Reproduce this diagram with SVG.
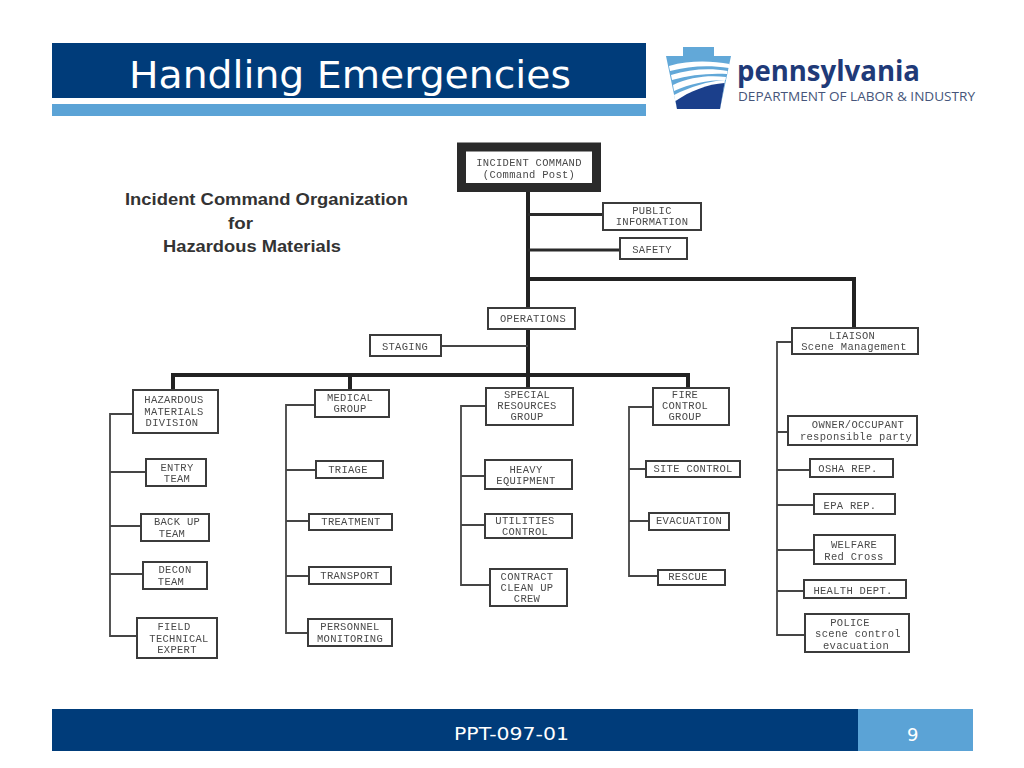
<svg xmlns="http://www.w3.org/2000/svg" width="1024" height="768" viewBox="0 0 1024 768">
<style>
.b{fill:#fff;stroke:#3a3a3a;stroke-width:2}
.t{font-family:"Liberation Mono",monospace;font-size:10.5px;letter-spacing:.3px;fill:#4a4a4a;text-anchor:middle}
.h{font-family:"Liberation Sans",Arial,sans-serif;font-weight:bold;font-size:17px;fill:#333}
.c1{fill:none;stroke:#222;stroke-width:4}
.c2{fill:none;stroke:#2a2a2a;stroke-width:3}
.c3{fill:none;stroke:#444;stroke-width:1.8}
</style>
<defs><filter id="s" x="-2%" y="-2%" width="104%" height="104%"><feGaussianBlur stdDeviation="0.45"/></filter></defs>
<rect width="1024" height="768" fill="#fff"/>
<g id="header">
<rect x="52" y="43" width="594" height="55" fill="#003c7a"/>
<rect x="52" y="104" width="594" height="12" fill="#5ba3d6"/>
<text x="129" y="88" font-family="'DejaVu Sans',Verdana,sans-serif" font-size="37px" fill="#fff" textLength="442" lengthAdjust="spacingAndGlyphs">Handling Emergencies</text>
</g>
<g id="logo">
<path d="M683 47H714V56H731L720 109H677L666 56H683Z" fill="#62a8d8"/>
<path d="M669 66C690 60 712 61 729.500 64L729 68C708 65 690 66 670 71Z M671 75C690 69 710 68 727.500 71L727 74C708 73 690 75 672 80Z M673 85C690 77 708 75 726 77L725.500 80C706 80 690 84 674 91Z" fill="#fff"/>
<path d="M674 95C690 87 708 81 725 80L720 109H677Z" fill="#fff"/>
<path d="M677 109L675.500 101C690 91 708 84 724.500 83L720 109Z" fill="#1b3f8b"/>
<text x="737" y="81" font-family="'Open Sans','Noto Sans',sans-serif" font-weight="bold" font-size="28px" fill="#1f3a78" textLength="183" lengthAdjust="spacingAndGlyphs">pennsylvania</text>
<text x="738" y="101" font-family="'Open Sans','Noto Sans',sans-serif" font-size="13px" fill="#46557a" textLength="237" lengthAdjust="spacingAndGlyphs">DEPARTMENT OF LABOR &amp; INDUSTRY</text>
</g>
<g id="heading">
<text class="h" x="125" y="205" textLength="283" lengthAdjust="spacingAndGlyphs">Incident Command Organization</text>
<text class="h" x="228" y="229" textLength="25" lengthAdjust="spacingAndGlyphs">for</text>
<text class="h" x="163" y="252" textLength="178" lengthAdjust="spacingAndGlyphs">Hazardous Materials</text>
</g>
<g filter="url(#s)">
<g id="connectors">
<path class="c1" d="M528 192V375M173 390V375H688V390M350 375V390M528 375V388"/>
<path class="c1" d="M528 279H854V328"/>
<path class="c2" d="M528 214.500H603M528 250H620"/>
<path class="c3" d="M441 346H528"/>
<path class="c3" d="M133 414H110V636H137M110 472H146M110 526H141M110 574H143"/>
<path class="c3" d="M315 405H286V633H308M286 470H316M286 521H309M286 576H309"/>
<path class="c3" d="M486 406H461V585H490M461 476H485M461 525H485"/>
<path class="c3" d="M653 407H629V576H658M629 469H646M629 521H649"/>
<path class="c3" d="M792 342H777V635H805M777 432H788M777 470H810M777 505H814M777 550H814M777 591H804"/>
</g>
<g id="incident"><rect x="461.500" y="147" width="135" height="40.500" fill="#fff" stroke="#2a2a2a" stroke-width="9"/><text class="t" x="529" y="166">INCIDENT COMMAND</text><text class="t" x="529" y="178">(Command Post)</text></g>
<g id="public"><rect class="b" x="603" y="203" width="98" height="27"/><text class="t" x="652" y="214">PUBLIC</text><text class="t" x="652" y="225">INFORMATION</text></g>
<g id="safety"><rect class="b" x="620" y="238" width="67" height="21"/><text class="t" x="652" y="253">SAFETY</text></g>
<g id="operations"><rect class="b" x="488" y="308" width="87" height="21"/><text class="t" x="533" y="322">OPERATIONS</text></g>
<g id="staging"><rect class="b" x="370" y="335" width="71" height="21"/><text class="t" x="405" y="350">STAGING</text></g>
<g id="liaison"><rect class="b" x="792" y="328" width="126" height="26"/><text class="t" x="852" y="339">LIAISON</text><text class="t" x="854" y="350">Scene Management</text></g>
<g id="owner"><rect class="b" x="788" y="416" width="129" height="29"/><text class="t" x="858" y="428">OWNER/OCCUPANT</text><text class="t" x="856" y="440">responsible party</text></g>
<g id="osha"><rect class="b" x="810" y="459" width="83" height="18"/><text class="t" x="848" y="472">OSHA REP.</text></g>
<g id="epa"><rect class="b" x="814" y="494" width="81" height="20"/><text class="t" x="850" y="509">EPA REP.</text></g>
<g id="welfare"><rect class="b" x="814" y="535" width="81" height="29"/><text class="t" x="854" y="548">WELFARE</text><text class="t" x="854" y="560">Red Cross</text></g>
<g id="health"><rect class="b" x="804" y="580" width="102" height="18"/><text class="t" x="853" y="594">HEALTH DEPT.</text></g>
<g id="police"><rect class="b" x="805" y="614" width="104" height="38"/><text class="t" x="850" y="626">POLICE</text><text class="t" x="858" y="637">scene control</text><text class="t" x="856" y="649">evacuation</text></g>
<g id="hazmat"><rect class="b" x="133" y="390" width="85" height="43"/><text class="t" x="174" y="403">HAZARDOUS</text><text class="t" x="174" y="415">MATERIALS</text><text class="t" x="172" y="426">DIVISION</text></g>
<g id="entry"><rect class="b" x="146" y="459" width="60" height="27"/><text class="t" x="177" y="471">ENTRY</text><text class="t" x="177" y="482">TEAM</text></g>
<g id="backup"><rect class="b" x="141" y="514" width="68" height="27"/><text class="t" x="177" y="525">BACK UP</text><text class="t" x="172" y="537">TEAM</text></g>
<g id="decon"><rect class="b" x="143" y="562" width="64" height="27"/><text class="t" x="175" y="573">DECON</text><text class="t" x="171" y="585">TEAM</text></g>
<g id="field"><rect class="b" x="137" y="618" width="80" height="40"/><text class="t" x="174" y="630">FIELD</text><text class="t" x="179" y="642">TECHNICAL</text><text class="t" x="177" y="653">EXPERT</text></g>
<g id="medical"><rect class="b" x="315" y="390" width="74" height="27"/><text class="t" x="350" y="401">MEDICAL</text><text class="t" x="350" y="412">GROUP</text></g>
<g id="triage"><rect class="b" x="316" y="461" width="67" height="17"/><text class="t" x="348" y="473">TRIAGE</text></g>
<g id="treatment"><rect class="b" x="309" y="514" width="83" height="16"/><text class="t" x="351" y="525">TREATMENT</text></g>
<g id="transport"><rect class="b" x="309" y="567" width="82" height="17"/><text class="t" x="350" y="579">TRANSPORT</text></g>
<g id="personnel"><rect class="b" x="308" y="619" width="84" height="27"/><text class="t" x="350" y="630">PERSONNEL</text><text class="t" x="350" y="642">MONITORING</text></g>
<g id="special"><rect class="b" x="486" y="388" width="87" height="37"/><text class="t" x="527" y="398">SPECIAL</text><text class="t" x="527" y="409">RESOURCES</text><text class="t" x="527" y="420">GROUP</text></g>
<g id="heavy"><rect class="b" x="485" y="460" width="87" height="29"/><text class="t" x="526" y="473">HEAVY</text><text class="t" x="526" y="484">EQUIPMENT</text></g>
<g id="utilities"><rect class="b" x="485" y="514" width="87" height="24"/><text class="t" x="525" y="524">UTILITIES</text><text class="t" x="525" y="535">CONTROL</text></g>
<g id="contract"><rect class="b" x="490" y="569" width="77" height="37"/><text class="t" x="527" y="580">CONTRACT</text><text class="t" x="527" y="591">CLEAN UP</text><text class="t" x="527" y="602">CREW</text></g>
<g id="fire"><rect class="b" x="653" y="388" width="76" height="37"/><text class="t" x="685" y="398">FIRE</text><text class="t" x="685" y="409">CONTROL</text><text class="t" x="685" y="420">GROUP</text></g>
<g id="site"><rect class="b" x="646" y="461" width="94" height="16"/><text class="t" x="693" y="472">SITE CONTROL</text></g>
<g id="evacuation"><rect class="b" x="649" y="513" width="80" height="17"/><text class="t" x="689" y="524">EVACUATION</text></g>
<g id="rescue"><rect class="b" x="658" y="570" width="67" height="15"/><text class="t" x="688" y="580">RESCUE</text></g>
</g>
<g id="footer">
<rect x="52" y="709" width="806" height="42" fill="#003c7a"/>
<rect x="858" y="709" width="115" height="42" fill="#5ba3d6"/>
<text x="454" y="740" font-family="'DejaVu Sans',Verdana,sans-serif" font-size="17.500px" fill="#fff" textLength="115" lengthAdjust="spacingAndGlyphs">PPT-097-01</text>
<text x="907" y="741" font-family="'DejaVu Sans',Verdana,sans-serif" font-size="18px" fill="#fff">9</text>
</g>
</svg>
